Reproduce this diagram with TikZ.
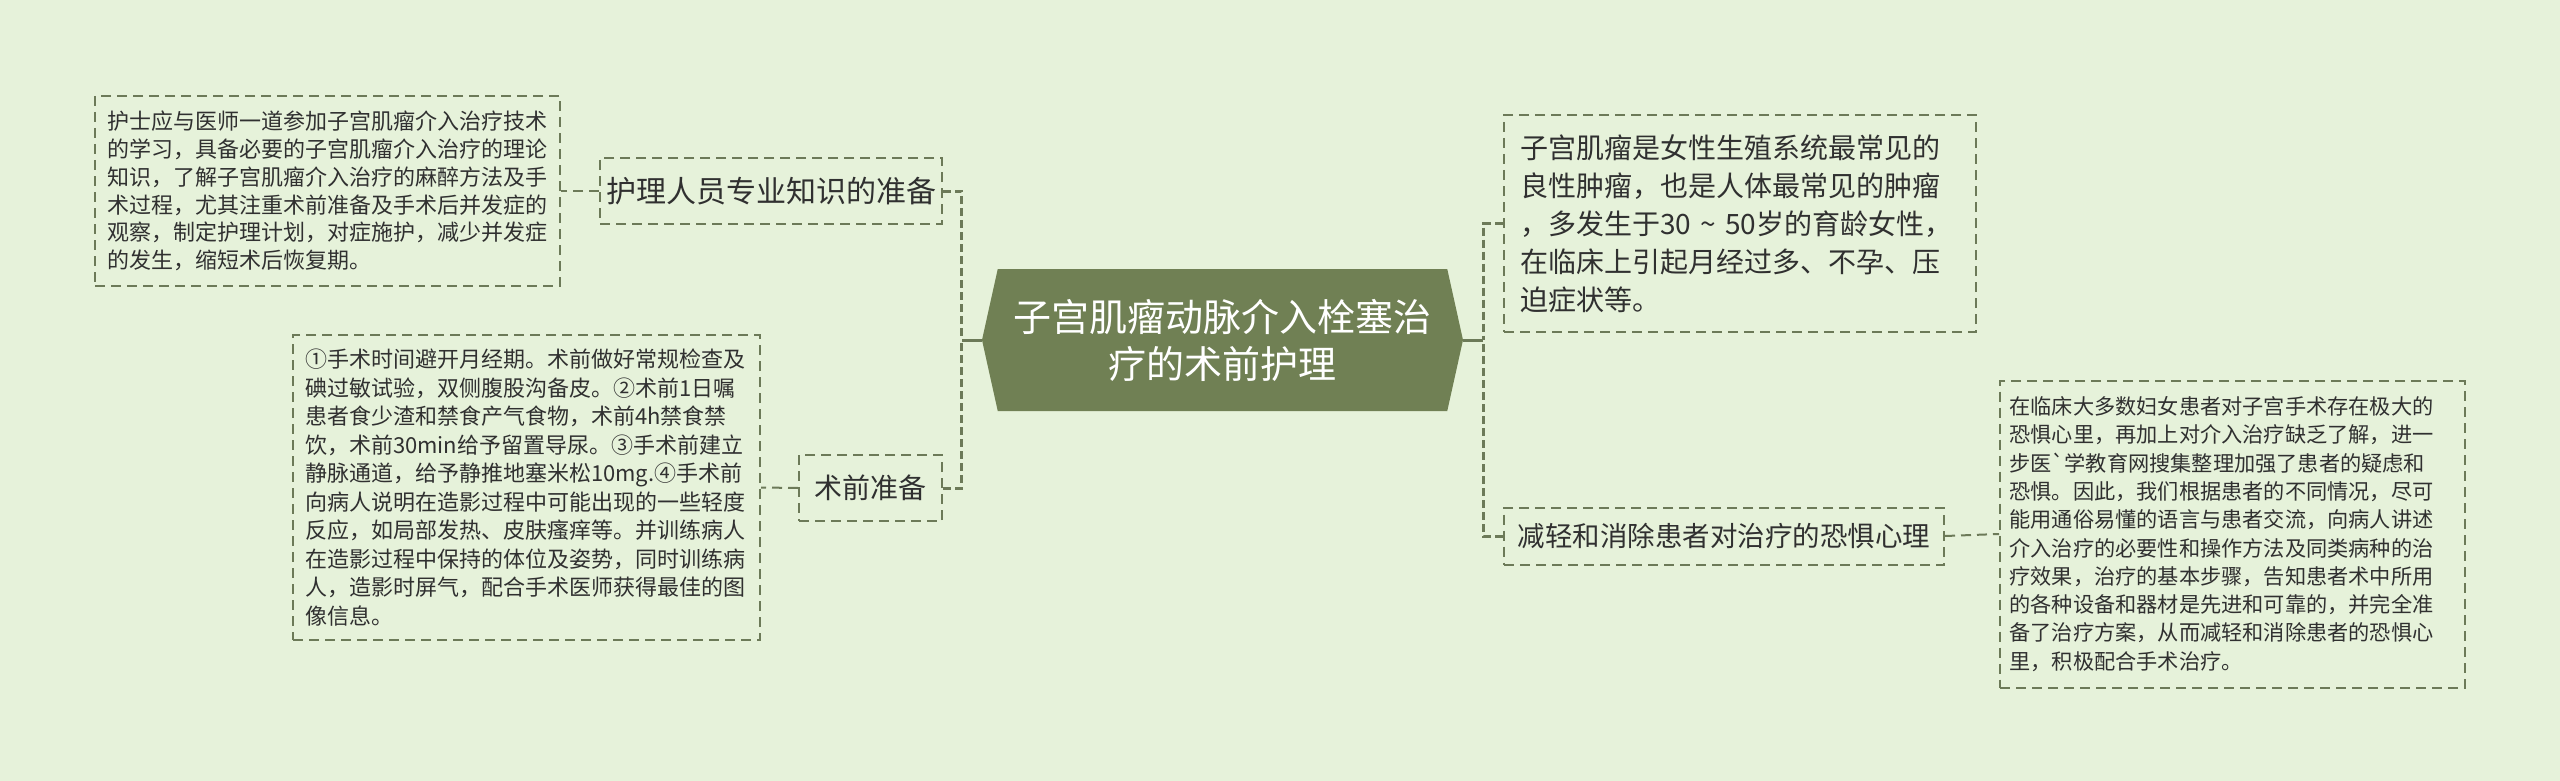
\documentclass[tikz,border=0pt]{standalone}
\usepackage{fontspec}
\setmainfont{Noto Sans CJK SC}
\usetikzlibrary{shapes.symbols}

\definecolor{paper}{RGB}{230,242,218}
\definecolor{olive}{RGB}{112,128,84}
\definecolor{rule}{RGB}{108,122,88}
\definecolor{ink}{RGB}{48,48,48}

\begin{document}
\begin{tikzpicture}[x=1pt,y=-1pt]

% type size and line spacing
\def\typesz#1#2{\fontsize{#1pt}{#2pt}\selectfont}
% node style definition
\tikzstyle{hub} = [
	signal, signal to=west and east, signal pointer angle=155,
	fill=olive, text=white, align=center, inner sep=0pt,
	minimum width=481pt, minimum height=142pt ];
\tikzstyle{topic} = [
	draw=rule, dash pattern=on 10pt off 6pt, line width=2pt,
	text=ink, align=left, inner sep=0pt ];
\tikzstyle{trunk} = [draw=rule, line width=3pt];
\tikzstyle{twig} = [draw=rule, line width=3pt, dash pattern=on 8pt off 4pt];
\tikzstyle{leafline} = [draw=rule, line width=2pt, dash pattern=on 10pt off 6pt];

\path[fill=paper, use as bounding box] (0,0) rectangle (2560,781);

\node[hub, font={\typesz{38}{47}}] (hub) at (1222.5,340)
	{子宫肌瘤动脉介入栓塞治\\疗的术前护理};

% left side
\node[topic, minimum width=342pt, minimum height=66pt, font={\typesz{30}{36}}]
	(staff) at (771,191) {护理人员专业知识的准备};
\node[topic, minimum width=143pt, minimum height=66pt, font={\typesz{28}{34}}]
	(prep) at (870.5,488) {术前准备};

\node[topic, minimum width=465pt, minimum height=190pt, text width=441pt,
	font={\typesz{22}{27.7}}] (staffnote) at (327.5,191) {%
护士应与医师一道参加子宫肌瘤介入治疗技术\\
的学习，具备必要的子宫肌瘤介入治疗的理论\\
知识，了解子宫肌瘤介入治疗的麻醉方法及手\\
术过程，尤其注重术前准备及手术后并发症的\\
观察，制定护理计划，对症施护，减少并发症\\
的发生，缩短术后恢复期。};

\node[topic, minimum width=467pt, minimum height=305pt, text width=443pt,
	font={\typesz{22}{28.5}}] (prepnote) at (526.5,487.5) {%
①手术时间避开月经期。术前做好常规检查及\\
碘过敏试验，双侧腹股沟备皮。②术前1日嘱\\
患者食少渣和禁食产气食物，术前4h禁食禁\\
饮，术前30min给予留置导尿。③手术前建立\\
静脉通道，给予静推地塞米松10mg.④手术前\\
向病人说明在造影过程中可能出现的一些轻度\\
反应，如局部发热、皮肤瘙痒等。并训练病人\\
在造影过程中保持的体位及姿势，同时训练病\\
人，造影时屏气，配合手术医师获得最佳的图\\
像信息。};

% right side
\node[topic, minimum width=472pt, minimum height=217pt, text width=440pt,
	font={\typesz{28}{38}}] (intro) at (1740,223.5) {%
子宫肌瘤是女性生殖系统最常见的\\
良性肿瘤，也是人体最常见的肿瘤\\
，多发生于30 \textasciitilde{} 50岁的育龄女性，\\
在临床上引起月经过多、不孕、压\\
迫症状等。};
\node[topic, minimum width=440pt, minimum height=57pt, font={\typesz{27.5}{33}}]
	(fear) at (1724,536) {减轻和消除患者对治疗的恐惧心理};

\node[topic, minimum width=465pt, minimum height=307pt, text width=446pt,
	font={\typesz{21.2}{28.3}}] (fearnote) at (2232.5,534) {%
在临床大多数妇女患者对子宫手术存在极大的\\
恐惧心里，再加上对介入治疗缺乏了解，进一\\
步医\textasciigrave 学教育网搜集整理加强了患者的疑虑和\\
恐惧。因此，我们根据患者的不同情况，尽可\\
能用通俗易懂的语言与患者交流，向病人讲述\\
介入治疗的必要性和操作方法及同类病种的治\\
疗效果，治疗的基本步骤，告知患者术中所用\\
的各种设备和器材是先进和可靠的，并完全准\\
备了治疗方案，从而减轻和消除患者的恐惧心\\
里，积极配合手术治疗。};

% connectors
\draw[trunk] (hub.west) -- ++(-20,0) coordinate (lj);
\draw[twig] (staff.east) -| (lj);
\draw[twig] (prep.east) -| (lj);
\draw[trunk] (hub.east) -- ++(20,0) coordinate (rj);
\draw[twig] (intro.west) -| (rj);
\draw[twig] (fear.west) -| (rj);

\draw[leafline] (staff.west) -- (staffnote.east);
\draw[leafline] (prep.west) -- (prepnote.east);
\draw[leafline] (fear.east) -- (fearnote.west);

\end{tikzpicture}
\end{document}
